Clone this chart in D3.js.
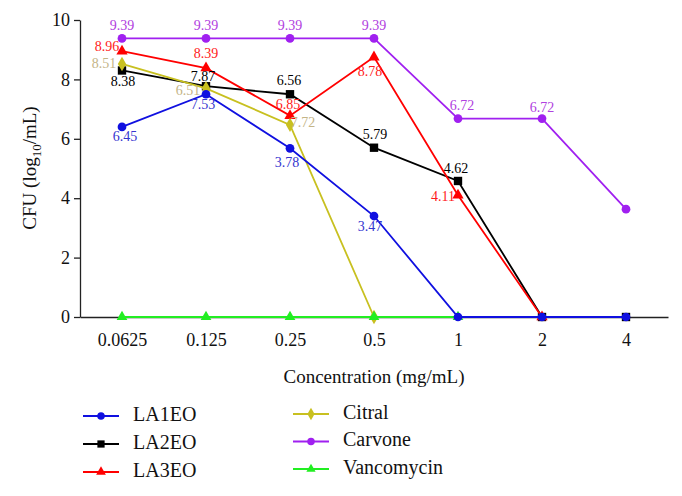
<!DOCTYPE html>
<html><head><meta charset="utf-8">
<script src="https://cdn.jsdelivr.net/npm/d3@7"></script>
<style>body{margin:0;background:#fff}svg{display:block}</style>
</head><body><svg id="c" width="682" height="496"></svg>
<script>
const categories = ["0.0625","0.125","0.25","0.5","1","2","4"];
const yTicks = [0,2,4,6,8,10];
const la1eo = [6.4, 7.5, 5.68, 3.4, 0, 0, 0];
const la2eo = [8.3, 7.77, 7.5, 5.7, 4.58, 0, 0];
const la3eo = [8.95, 8.38, 6.78, 8.75, 4.1, 0, null];
const citral = [8.52, 7.7, 6.47, 0, null, null, null];
const carvone = [9.38, 9.38, 9.38, 9.38, 6.68, 6.68, 3.63];
const vancomycin = [0, 0, 0, 0, 0, null, null];
const la1eoLabels = ["6.45","7.53","3.78","3.47",null,null,null];
const la2eoLabels = ["8.38","7.87","6.56","5.79","4.62",null,null];
const la3eoLabels = ["8.96","8.39","6.85","8.78","4.11",null,null];
const citralLabels = ["8.51","6.51","7.72",null,null,null,null];
const carvoneLabels = ["9.39","9.39","9.39","9.39","6.72","6.72",null];
const seriesNames = ["LA1EO","LA2EO","LA3EO","Citral","Carvone","Vancomycin"];

const FONT = "'Liberation Serif', 'DejaVu Serif', serif";

const series = [
  {name:"LA2EO", values:la2eo, labels:la2eoLabels, color:"#000000", label:"#000000", sym:d3.symbolSquare, size:70,
   off:[[1,12],[-3,-8],[-1,-12],[1,-12],[-2,-11]]},
  {name:"LA3EO", values:la3eo, labels:la3eoLabels, color:"#ff0000", label:"#ff1a1a", sym:d3.symbolTriangle, size:55,
   off:[[-15,-3],[0,-13],[-2,-10],[-4,16],[-15,3]]},
  {name:"Citral", values:citral, labels:citralLabels, color:"#c8c020", label:"#c4b486", sym:d3.symbolDiamond, size:60,
   off:[[-18,1],[-18,3],[13,-1]]},
  {name:"Carvone", values:carvone, labels:carvoneLabels, color:"#a020f0", label:"#b040e0", sym:d3.symbolCircle, size:60,
   off:[[0,-12],[0,-12],[0,-12],[0,-12],[4,-12],[0,-10]]},
  {name:"Vancomycin", values:vancomycin, labels:[], color:"#22ee22", label:"#22ee22", sym:d3.symbolTriangle, size:50, off:[]},
  {name:"LA1EO", values:la1eo, labels:la1eoLabels, color:"#1010e0", label:"#3535d0", sym:d3.symbolCircle, size:60,
   off:[[3,11],[-3,12],[-3,15],[-4,12]]}
];
const legendOrder = {"LA1EO":0,"LA2EO":1,"LA3EO":2,"Citral":3,"Carvone":4,"Vancomycin":5};

const svg = d3.select("#c").style("font-family", FONT);
const x = d3.scalePoint().domain(categories).range([80,668]).padding(0.5);
const y = d3.scaleLinear().domain([0,10]).range([317,20]);

// axes
const ya = svg.append("g").attr("transform","translate(80,0)")
  .call(d3.axisLeft(y).tickValues(yTicks).tickSize(6).tickSizeOuter(0));
ya.attr("font-family", FONT);
ya.select(".domain").attr("stroke","#222").attr("stroke-width",1.3);
ya.selectAll(".tick line").attr("stroke","#222").attr("stroke-width",1.3);
ya.selectAll(".tick text").attr("font-size",18).attr("fill","#111").attr("x",-10)
  .style("font-family",FONT);

const xa = svg.append("g").attr("transform","translate(0,317)")
  .call(d3.axisBottom(x).tickSize(3).tickSizeOuter(0));
xa.attr("font-family", FONT);
xa.select(".domain").attr("stroke","#222").attr("stroke-width",1.3);
xa.selectAll(".tick line").attr("stroke","#222");
xa.selectAll(".tick text").attr("font-size",18).attr("fill","#111").attr("y",16)
  .style("font-family",FONT);

svg.append("text").attr("x",374).attr("y",383).attr("text-anchor","middle")
  .style("font-family",FONT).attr("font-size",19).attr("fill","#111").text("Concentration (mg/mL)");
const yt = svg.append("text").attr("transform","translate(36,168) rotate(-90)")
  .style("font-family",FONT).attr("text-anchor","middle").attr("font-size",19).attr("fill","#111");
yt.append("tspan").text("CFU (log");
yt.append("tspan").attr("font-size",13).attr("dy",5).text("10");
yt.append("tspan").attr("dy",-5).text("/mL)");

// lines
const line = d3.line().defined(d=>d.v!=null).x(d=>x(d.c)).y(d=>y(d.v));
series.forEach(s=>{
  const pts = categories.map((c,i)=>({c, v:s.values[i]}));
  const g = svg.append("g");
  g.append("path").datum(pts).attr("d",line).attr("fill","none")
   .attr("stroke",s.color).attr("stroke-width",1.8);
  g.selectAll("path.m").data(pts.filter(p=>p.v!=null)).join("path").attr("class","m")
   .attr("transform",p=>`translate(${x(p.c)},${y(p.v)})`)
   .attr("d",d3.symbol(s.sym,s.size)).attr("fill",s.color);
});
// labels
series.forEach(s=>{
  s.labels.forEach((t,i)=>{
    if(t==null) return;
    const o = s.off[i];
    svg.append("text").attr("x",x(categories[i])+o[0]).attr("y",y(s.values[i])+o[1])
      .style("font-family",FONT)
      .attr("text-anchor","middle").attr("dominant-baseline","middle")
      .attr("font-size",14).attr("fill",s.label).text(t);
  });
});

// legend
const leg = svg.append("g");
series.slice().sort((a,b)=>legendOrder[a.name]-legendOrder[b.name]).forEach((s,k)=>{
  const col = Math.floor(k/3), row = k%3;
  const lx = col===0 ? 83 : 293;
  const ly = (col===0 ? 416 : 414) + row*(col===0 ? 28 : 27.5);
  const g = leg.append("g").attr("transform",`translate(${lx},${ly})`);
  g.append("line").attr("x1",0).attr("x2",36).attr("stroke",s.color).attr("stroke-width",1.8);
  g.append("path").attr("transform","translate(18,0)").attr("d",d3.symbol(s.sym,s.size*0.75)).attr("fill",s.color);
  g.append("text").attr("x",50).attr("y",0).attr("dominant-baseline","middle")
    .style("font-family",FONT).attr("font-size",20).attr("fill","#111").text(s.name);
});
</script></body></html>
